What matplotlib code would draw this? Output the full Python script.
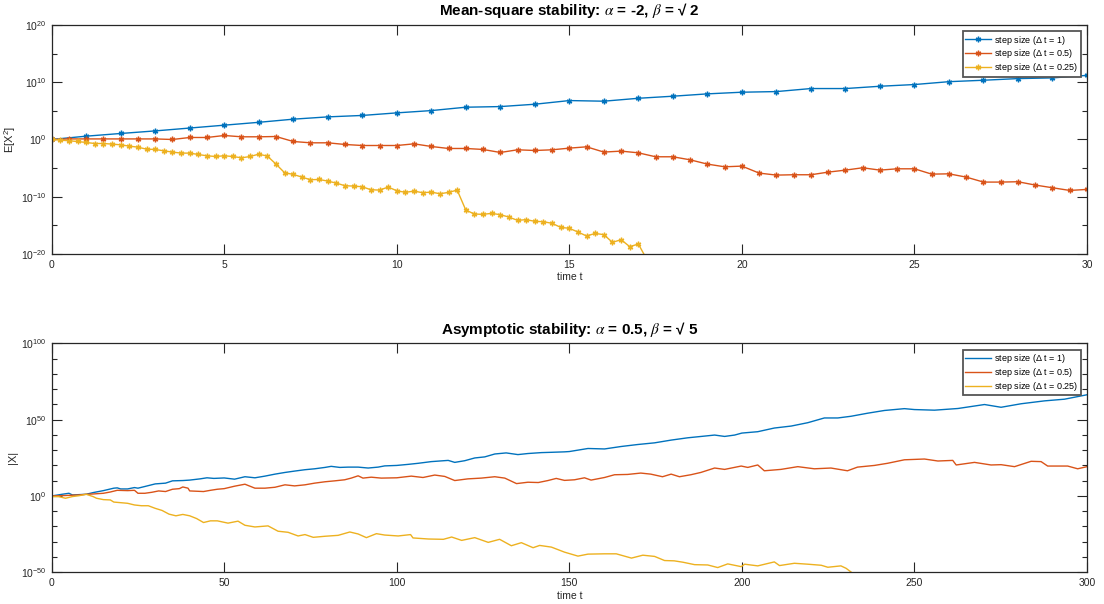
import numpy as np
import matplotlib
matplotlib.use("Agg")
import matplotlib.pyplot as plt
from matplotlib.ticker import FixedLocator, NullFormatter, LogFormatterSciNotation

plt.rcParams['font.family'] = ['Liberation Sans', 'DejaVu Sans']
plt.rcParams['mathtext.fontset'] = 'stix'

# MATLAB default colour order
blue, orange, yellow = '#0072BD', '#D95319', '#EDB120'
labels = ['step size ($\\mathregular{\\Delta}$ t = 1)', 'step size ($\\mathregular{\\Delta}$ t = 0.5)',
          'step size ($\\mathregular{\\Delta}$ t = 0.25)']

# ---- top panel: log10 E[X^2] ----
ms_dt1 = [0, 0.58, 1.05, 1.5, 2.0, 2.5, 3.0, 3.55, 3.95, 4.2, 4.65, 5.05, 5.64, 5.75, 6.16,
          6.8, 6.69, 7.2, 7.56, 7.97, 8.26, 8.37, 8.9, 8.9, 9.3, 9.6, 10.1, 10.35, 10.64, 10.76, 11.2]
ms_dt05 = [0, 0.1, 0.1, 0.1, 0.1, 0.1, 0.1, 0, 0.35, 0.35, 0.7, 0.47, 0.47, 0.52, -0.35, -0.58,
           -0.58, -0.87, -1.05, -1.05, -1.05, -0.76, -1.22, -1.57, -1.57, -1.74, -2.27, -1.8, -1.92,
           -1.8, -1.51, -1.28, -2.2, -2.03, -2.33, -3.02, -3.02, -3.55, -4.3, -4.77, -4.65, -5.87,
           -6.22, -6.16, -6.16, -5.7, -5.35, -4.94, -5.35, -5.12, -5.12, -6.05, -6.0, -6.57, -7.44,
           -7.44, -7.38, -7.96, -8.43, -8.9, -8.72]
ms_dt025 = [0, -0.1, -0.23, -0.35, -0.52, -0.7, -0.7, -0.81, -0.93, -1.16, -1.34, -1.69, -1.74,
            -1.98, -2.2, -2.38, -2.38, -2.62, -2.85, -2.97, -2.85, -2.97, -3.2, -2.97, -2.56, -2.9,
            -4.3, -5.81, -6.1, -6.57, -7.03, -6.98, -7.27, -7.62, -8.08, -8.14, -8.26, -8.78, -8.84,
            -8.31, -8.95, -9.24, -9.01, -9.3, -9.19, -9.48, -9.24, -8.84, -12.33, -13.02, -13.08,
            -12.9, -13.14, -13.55, -14.13, -14.0, -14.3, -14.36, -14.65, -15.35, -15.52, -16.16,
            -16.86, -16.4, -16.63, -17.97, -17.5, -18.72, -18.26, -21.0]

# ---- bottom panel: (time, log10 |X|) samples ----
as_t1 = [0, 3, 5, 6, 8, 10, 12, 15, 18, 19, 20, 22, 24, 25, 27, 30, 33, 35, 38, 40, 43, 45, 47, 50,
         53, 56, 58.9, 61.8, 64.7, 67.6, 70.4, 73.4, 76.2, 79.2, 81, 83.5, 85.9, 88.8, 91.7, 94.6,
         96.5, 100, 103.3, 106.2, 110, 114.9, 116.8, 119.7, 122.6, 125.5, 128.4, 131.7, 135.1, 138,
         141.9, 144.8, 148.6, 150, 155.4, 160.2, 165, 169.8, 174.7, 179.5, 184.3, 189.1, 192.1, 195,
         197.9, 200, 204.6, 209.4, 214.3, 219.1, 223.9, 227.8, 231.6, 236.4, 241.3, 247.1, 250,
         255.8, 262.6, 270.3, 275.1, 280.9, 287.7, 293.5, 300]
as_x1 = [0, 1.1, 1.76, 0.66, 0.88, 1.1, 2.2, 3.5, 5.1, 5.3, 4.6, 4.6, 5.5, 5.1, 6.2, 7.9, 8.4, 9.9,
         10.1, 10.4, 11.2, 11.9, 11.5, 11.8, 11.0, 12.6, 11.9, 13.0, 14.3, 15.4, 16.3, 17.2, 17.8,
         18.7, 19.4, 18.7, 18.9, 18.9, 18.3, 18.9, 19.7, 20.0, 20.7, 21.4, 22.5, 23.3, 22.0, 23.1,
         24.9, 25.6, 27.5, 28.2, 27.1, 27.8, 28.4, 28.6, 28.9, 29.1, 31.1, 30.8, 32.4, 33.7, 34.8,
         36.6, 38.1, 39.2, 39.9, 39.0, 39.9, 41.2, 42.1, 44.5, 45.8, 48.0, 51.1, 51.1, 52.2, 54.2,
         56.0, 57.2, 56.6, 56.2, 57.3, 59.9, 58.1, 60.4, 62.3, 63.4, 66.3]

as_t05 = [0, 3, 5, 8, 10, 12, 15, 17, 19, 22, 24, 25, 27, 29, 31, 33, 35, 37, 38, 39.5, 40, 42,
          44, 46, 48, 50, 53, 56, 58.9, 61.8, 64.7, 67.6, 70.4, 73.4, 76.2, 79.2, 82, 84.9, 86.8,
          88.8, 90.2, 92.6, 95.5, 100, 104.2, 107.6, 111, 113.9, 116.8, 120.6, 124.5, 128.4, 131.3,
          134.7, 138, 141, 143.8, 146.2, 148.6, 151.5, 154.4, 156.3, 160.2, 163.1, 166.9, 170.7,
          173.6, 177, 179.5, 181.9, 185.2, 188.1, 192.1, 195, 199.8, 201.7, 204.6, 206.5, 211.3,
          216.2, 221, 225.8, 230.6, 233.5, 238.4, 242.2, 247.1, 252.9, 256.8, 261.1, 262.1, 267.4,
          272.2, 275.1, 279, 283.8, 286.7, 288.6, 294.4, 297.3, 300]
as_x05 = [0, 0.2, 0.4, 0.66, 1.1, 1.3, 1.76, 2.6, 3.7, 3.5, 3.7, 1.76, 1.76, 2.4, 3.3, 2.9, 4.4,
          4.8, 5.9, 5.1, 3.3, 3.1, 2.9, 3.7, 4.4, 4.8, 6.4, 7.7, 5.1, 5.1, 5.7, 7.3, 6.6, 7.3, 8.4,
          9.3, 9.9, 10.6, 11.7, 13.2, 11.7, 12.3, 11.7, 11.9, 13.0, 12.1, 13.7, 12.8, 10.1, 11.2,
          11.7, 12.6, 11.7, 8.1, 9.0, 8.8, 10.1, 11.5, 10.2, 10.6, 11.9, 10.4, 12.1, 13.9, 14.1,
          15.0, 14.3, 12.6, 14.3, 12.6, 13.9, 15.4, 18.3, 17.4, 19.6, 18.7, 20.3, 16.5, 17.4, 19.2,
          17.8, 18.3, 16.5, 18.9, 20.0, 21.4, 23.7, 24.2, 22.9, 23.3, 20.3, 22.0, 20.3, 20.5, 19.2,
          22.7, 22.5, 19.6, 19.6, 17.8, 19.2]

as_t025 = [0, 2, 4, 6, 8, 10, 12, 13, 15, 17, 18, 20, 22, 24, 26, 28, 30, 32, 34, 36, 38, 40, 42,
           44, 46, 48, 51.1, 54, 56, 58.9, 62.7, 65.6, 68.5, 71.4, 73.4, 75.8, 79.2, 83, 86.4,
           88.8, 91.2, 94.1, 96.5, 100.4, 104, 104.7, 109.2, 113.5, 115.9, 118.8, 122.6, 126.5,
           129.8, 133.2, 136.1, 139.5, 141.4, 144.8, 148.6, 152.5, 155.4, 160.2, 163.6, 168, 171.3,
           174.7, 177.6, 180.4, 182.9, 186.3, 190.1, 193, 195.9, 199.8, 200.8, 204.6, 209.4, 210.9,
           215.2, 219.1, 223, 224.9, 228.7, 230.2, 233.5]
as_x025 = [-0.4, -0.4, -1.5, -0.4, 0.2, 1.1, -0.4, -1.5, -2.4, -2.6, -4.0, -4.4, -4.8, -5.9, -6.4,
           -6.4, -8.1, -9.5, -11.9, -13.0, -12.1, -13.0, -14.8, -17.4, -16.3, -16.3, -17.8, -16.5,
           -19.2, -20.3, -19.6, -23.1, -23.8, -26.2, -25.3, -27.1, -26.4, -25.8, -23.6, -24.9,
           -27.3, -24.7, -25.6, -26.2, -25.3, -27.5, -28.2, -28.4, -26.9, -29.1, -27.3, -30.4,
           -28.4, -32.6, -30.6, -33.9, -32.4, -33.5, -36.8, -39.4, -38.1, -37.9, -37.9, -40.7,
           -38.8, -39.6, -42.3, -42.5, -43.4, -45.0, -45.2, -46.9, -44.5, -46.3, -44.7, -45.8,
           -43.2, -45.6, -44.1, -44.7, -45.4, -46.7, -45.8, -47.4, -53.0]

txt = '#262626'
fig = plt.figure(figsize=(11.04, 6.04), dpi=100)
ax1 = fig.add_axes([0.0468, 0.5795, 0.9378, 0.3791])
ax2 = fig.add_axes([0.0468, 0.0525, 0.9378, 0.3791])

star = (6, 2, 0)
t1 = np.arange(len(ms_dt1)) * 1.0
t05 = np.arange(len(ms_dt05)) * 0.5
t025 = np.arange(len(ms_dt025)) * 0.25
mk = dict(marker=star, ms=4, mew=1.0)
ax1.semilogy(t1, 10.0 ** np.array(ms_dt1), color=blue, lw=1.0, label=labels[0], **mk)
ax1.semilogy(t05, 10.0 ** np.array(ms_dt05), color=orange, lw=1.0, label=labels[1], **mk)
ax1.semilogy(t025, 10.0 ** np.array(ms_dt025), color=yellow, lw=1.0, label=labels[2], **mk)
ax1.set_xlim(0, 30)
ax1.set_ylim(1e-20, 1e20)
ax1.set_yticks([10.0 ** k for k in (-20, -10, 0, 10, 20)])
ax1.yaxis.set_minor_locator(FixedLocator([10.0 ** k for k in (-15, -5, 5, 15)]))
ax1.set_xticks(np.arange(0, 31, 5))
ax1.set_ylabel('E[X$\\mathregular{^{2}}$]', fontsize=8, color=txt, labelpad=2)
ax1.set_title('Mean-square stability: $\\alpha$ = -2, $\\beta$ = \u221a 2', fontsize=11, fontweight='bold', pad=7)

ax2.semilogy(as_t1, 10.0 ** np.array(as_x1), color=blue, lw=1.0, label=labels[0])
ax2.semilogy(as_t05, 10.0 ** np.array(as_x05), color=orange, lw=1.0, label=labels[1])
ax2.semilogy(as_t025, 10.0 ** np.array(as_x025), color=yellow, lw=1.0, label=labels[2])
ax2.set_xlim(0, 300)
ax2.set_ylim(1e-50, 1e100)
ax2.set_yticks([10.0 ** k for k in (-50, 0, 50, 100)])
ax2.yaxis.set_minor_locator(FixedLocator([10.0 ** k for k in range(-40, 100, 10) if k % 50]))
ax2.set_xticks(np.arange(0, 301, 50))
ax2.set_ylabel('|X|', fontsize=8, color=txt, labelpad=2)
ax2.set_title('Asymptotic stability: $\\alpha$ = 0.5, $\\beta$ = \u221a 5', fontsize=11, fontweight='bold', pad=7)

for ax in (ax1, ax2):
    ax.yaxis.set_major_formatter(LogFormatterSciNotation())
    ax.yaxis.set_minor_formatter(NullFormatter())
    ax.tick_params(which='both', direction='in', top=True, right=True, labelsize=7.5,
                   colors=txt, width=0.8)
    ax.tick_params(which='major', length=7)
    ax.tick_params(which='minor', length=3.5)
    ax.tick_params(axis='x', pad=4)
    for s in ax.spines.values():
        s.set_color(txt)
        s.set_linewidth(0.9)
    ax.set_xlabel('time t', fontsize=7.5, color=txt, labelpad=2)
    leg = ax.legend(loc='upper right', fontsize=6.5, fancybox=False, framealpha=1,
                    edgecolor='#555555', handlelength=2.9, labelspacing=0.1,
                    borderaxespad=0.7, borderpad=0.25, handletextpad=0.3)
    leg.get_frame().set_linewidth(1.3)

fig.savefig('out.png', dpi=100)
